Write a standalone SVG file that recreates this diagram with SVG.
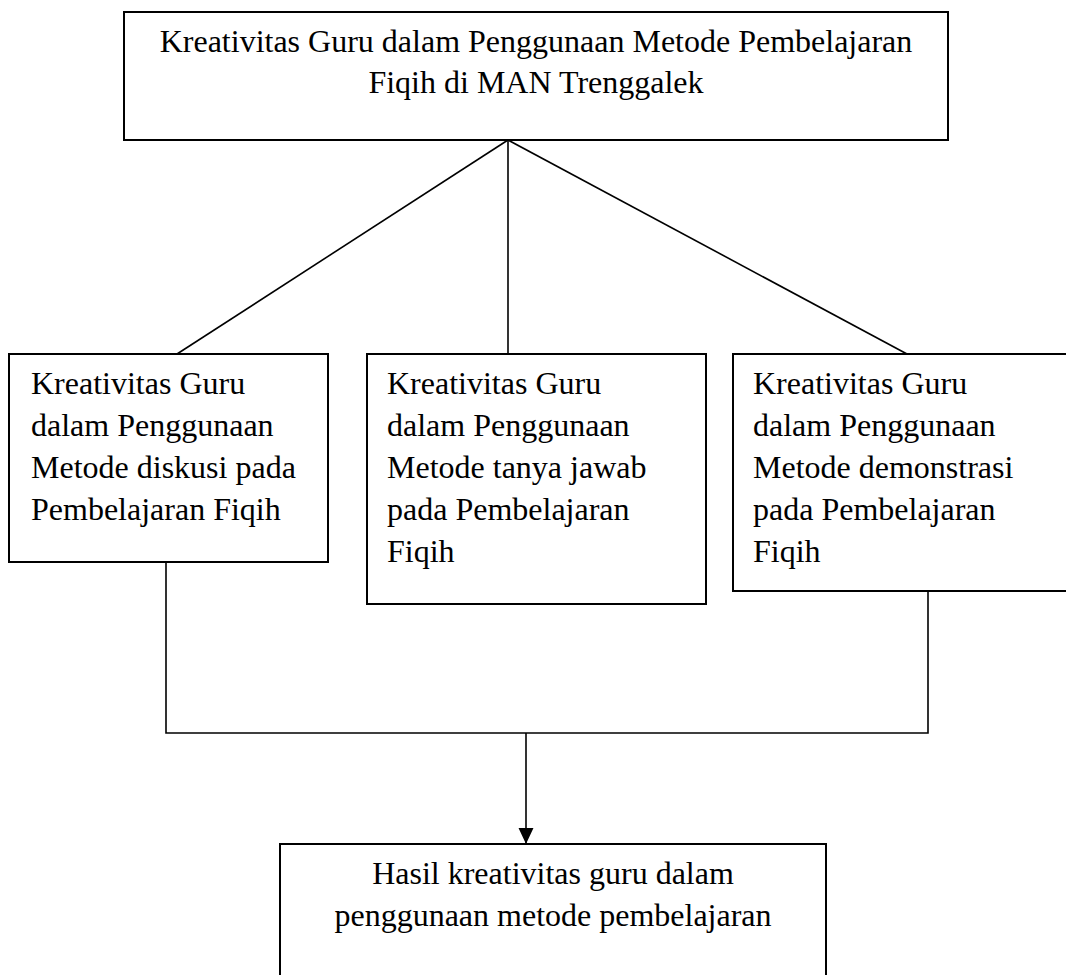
<svg xmlns="http://www.w3.org/2000/svg" width="1066" height="975" viewBox="0 0 1066 975">
<style>
.box{fill:#fff;stroke:#000;stroke-width:2}
.t{font-family:"Liberation Serif","Times New Roman",serif;font-size:32px;fill:#000}
.c{text-anchor:middle}
.ln{fill:none;stroke:#000;stroke-width:1.6}
</style>
<defs>
<marker id="arr" markerUnits="userSpaceOnUse" markerWidth="16" markerHeight="16" viewBox="0 0 15 14" refX="15" refY="7" orient="auto">
<path d="M0,0 L15,7 L0,14 z" fill="#000"/>
</marker>
</defs>
<rect width="1066" height="975" fill="#fff"/>
<g id="connectors">
<line class="ln" x1="508" y1="140" x2="177" y2="354"/>
<line class="ln" x1="508" y1="140" x2="508" y2="354"/>
<line class="ln" x1="508" y1="140" x2="907" y2="354"/>
<polyline class="ln" points="166,562 166,733 928,733 928,591"/>
<line class="ln" x1="526" y1="733" x2="526" y2="844" marker-end="url(#arr)"/>
</g>
<g id="top">
<rect class="box" x="124" y="12" width="824" height="128"/>
<text class="t c" x="536" y="52">Kreativitas Guru dalam Penggunaan Metode Pembelajaran</text>
<text class="t c" x="536" y="93">Fiqih di MAN Trenggalek</text>
</g>
<g id="diskusi">
<rect class="box" x="9" y="354" width="319" height="208"/>
<text class="t" x="31" y="394">Kreativitas Guru</text>
<text class="t" x="31" y="436">dalam Penggunaan</text>
<text class="t" x="31" y="478">Metode diskusi pada</text>
<text class="t" x="31" y="520">Pembelajaran Fiqih</text>
</g>
<g id="tanyajawab">
<rect class="box" x="367" y="354" width="339" height="250"/>
<text class="t" x="387" y="394">Kreativitas Guru</text>
<text class="t" x="387" y="436">dalam Penggunaan</text>
<text class="t" x="387" y="478">Metode tanya jawab</text>
<text class="t" x="387" y="520">pada Pembelajaran</text>
<text class="t" x="387" y="562">Fiqih</text>
</g>
<g id="demonstrasi">
<rect class="box" x="733" y="354" width="336" height="237"/>
<text class="t" x="753" y="394">Kreativitas Guru</text>
<text class="t" x="753" y="436">dalam Penggunaan</text>
<text class="t" x="753" y="478">Metode demonstrasi</text>
<text class="t" x="753" y="520">pada Pembelajaran</text>
<text class="t" x="753" y="562">Fiqih</text>
</g>
<g id="hasil">
<rect class="box" x="280" y="844" width="546" height="140"/>
<text class="t c" x="553" y="884">Hasil kreativitas guru dalam</text>
<text class="t c" x="553" y="926">penggunaan metode pembelajaran</text>
</g>
</svg>
